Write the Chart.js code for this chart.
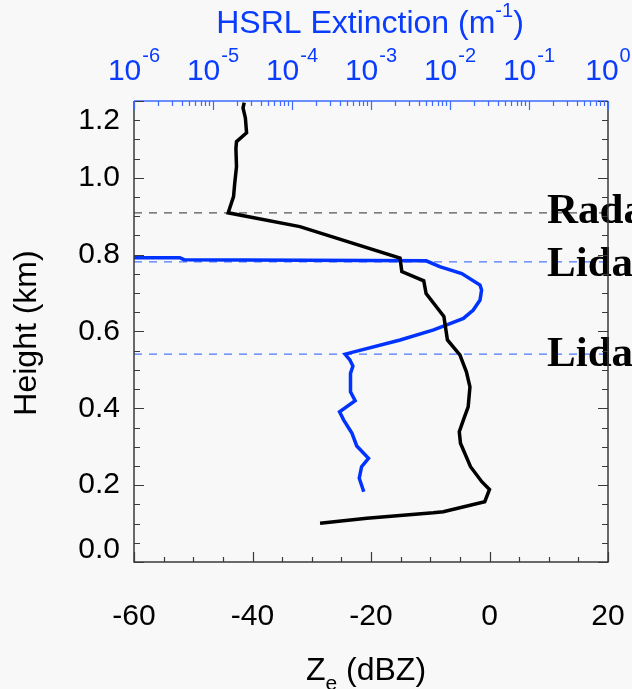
<!DOCTYPE html>
<html>
<head>
<meta charset="utf-8">
<script src="https://cdn.jsdelivr.net/npm/chart.js@4/dist/chart.umd.min.js"></script>
<style>
  html, body { margin: 0; padding: 0; background: #f8f8f8; }
  #wrap { width: 632px; height: 689px; position: relative; }
</style>
</head>
<body>
<div id="wrap"><canvas id="c" width="632" height="689"></canvas></div>
<script>
// Tick labels
const heightTicks = [0.0, 0.2, 0.4, 0.6, 0.8, 1.0, 1.2];
const zeTicks = [-60, -40, -20, 0, 20];
const extTicks = [1e-6, 1e-5, 1e-4, 1e-3, 1e-2, 1e-1, 1];
const extExponents = ['-6', '-5', '-4', '-3', '-2', '-1', '0'];

// Radar reflectivity profile (dBZ) and its heights (km)
const zeValues  = [-41.4, -41.6, -41.2, -41.0, -42.7, -42.8, -42.7, -43.0, -43.2, -44.1,
                   -32.0, -15.1, -14.8, -11.1, -10.7, -7.7, -7.1, -5.0, -3.9, -3.3,
                   -3.6, -4.4, -5.1, -4.9, -3.2, -1.3, 0.0, -0.8, -7.8, -9.5, -20.7, -28.6];
const zeHeights = [1.196, 1.182, 1.156, 1.117, 1.094, 1.077, 1.029, 0.986, 0.951, 0.909,
                   0.873, 0.791, 0.756, 0.732, 0.699, 0.639, 0.578, 0.539, 0.495, 0.456,
                   0.404, 0.370, 0.339, 0.309, 0.248, 0.209, 0.189, 0.157, 0.131, 0.128, 0.114, 0.101];

// HSRL extinction profile (1/m) and its heights (km)
const extValues  = [1.0e-6, 3.8e-6, 4.3e-6, 5.0e-3, 7.4e-3, 1.41e-2, 2.40e-2, 2.51e-2, 2.40e-2,
                    1.97e-2, 1.48e-2, 9.1e-3, 6.2e-3, 2.34e-3, 4.7e-4, 5.4e-4, 5.9e-4, 5.5e-4,
                    5.5e-4, 6.3e-4, 4.0e-4, 4.5e-4, 5.75e-4, 6.6e-4, 9.3e-4, 7.6e-4, 7.1e-4, 8.1e-4];
const extHeights = [0.792, 0.792, 0.787, 0.784, 0.769, 0.751, 0.721, 0.708, 0.682,
                    0.656, 0.634, 0.617, 0.604, 0.578, 0.541, 0.526, 0.510, 0.491,
                    0.443, 0.420, 0.391, 0.370, 0.335, 0.302, 0.270, 0.248, 0.218, 0.183];

// Cloud boundary heights (km) and their names
const levelHeights = [0.909, 0.781, 0.541];
const levelNames = ['Radar', 'Lidar', 'Lidar'];
const levelColors = ['#555555', '#4a78ff', '#4a78ff'];

const BLUE = '#0a3cff';
const SANS = '"Liberation Sans", Arial, sans-serif';

const datasets = [
  {
    label: 'Ze',
    data: zeValues.map((v, i) => ({ x: v, y: zeHeights[i] })),
    xAxisID: 'x', yAxisID: 'y',
    borderColor: '#000000', borderWidth: 3.5, showLine: true, pointRadius: 0, tension: 0
  },
  {
    label: 'Extinction',
    data: extValues.map((v, i) => ({ x: v, y: extHeights[i] })),
    xAxisID: 'xTop', yAxisID: 'y',
    borderColor: '#0033ff', borderWidth: 3.5, showLine: true, pointRadius: 0, tension: 0
  }
];
levelHeights.forEach((h, i) => {
  datasets.push({
    label: levelNames[i],
    data: [{ x: -60, y: h }, { x: 20, y: h }],
    xAxisID: 'x', yAxisID: 'y',
    borderColor: levelColors[i], borderWidth: 1.3, borderDash: [8, 7],
    showLine: true, pointRadius: 0
  });
});

// Axes frame, inward ticks, labels and annotations
const decor = {
  id: 'decor',
  afterDraw(chart) {
    const { ctx, chartArea: { left, right, top, bottom }, scales } = chart;
    const xs = scales.x, xt = scales.xTop, ys = scales.y;
    ctx.save();

    // height labels, end labels kept inside the frame
    ctx.fillStyle = '#000';
    ctx.font = '30px ' + SANS;
    ctx.textAlign = 'right';
    ctx.textBaseline = 'middle';
    heightTicks.forEach(v => {
      let py = ys.getPixelForValue(v);
      py = Math.min(Math.max(py, top + 20), bottom - 12);
      ctx.fillText(v.toFixed(1), left - 14, py);
    });

    // reflectivity labels
    ctx.textAlign = 'center';
    ctx.textBaseline = 'alphabetic';
    zeTicks.forEach(v => {
      ctx.fillText(String(v), xs.getPixelForValue(v), 625);
    });

    // extinction labels 10^n
    ctx.fillStyle = BLUE;
    ctx.textAlign = 'left';
    extTicks.forEach((v, i) => {
      const px = xt.getPixelForValue(v);
      ctx.font = '30px ' + SANS;
      const wBase = ctx.measureText('10').width;
      ctx.font = '20px ' + SANS;
      const wExp = ctx.measureText(extExponents[i]).width;
      const x0 = px - (wBase + wExp + 1) / 2;
      ctx.font = '30px ' + SANS;
      ctx.fillText('10', x0, 80);
      ctx.font = '20px ' + SANS;
      ctx.fillText(extExponents[i], x0 + wBase + 1, 62);
    });

    // top title
    {
      const parts = [['HSRL Extinction (m', 32, 33], ['-1', 20, 17], [')', 32, 33]];
      let total = 0;
      parts.forEach(p => { ctx.font = p[1] + 'px ' + SANS; total += ctx.measureText(p[0]).width; });
      let x = 370 - total / 2;
      parts.forEach(p => {
        ctx.font = p[1] + 'px ' + SANS;
        ctx.fillText(p[0], x, p[2]);
        x += ctx.measureText(p[0]).width;
      });
    }

    // bottom title
    ctx.fillStyle = '#000';
    {
      const parts = [['Z', 32, 680], ['e', 21, 690], [' (dBZ)', 32, 680]];
      let total = 0;
      parts.forEach(p => { ctx.font = p[1] + 'px ' + SANS; total += ctx.measureText(p[0]).width; });
      let x = 366 - total / 2;
      parts.forEach(p => {
        ctx.font = p[1] + 'px ' + SANS;
        ctx.fillText(p[0], x, p[2]);
        x += ctx.measureText(p[0]).width;
      });
    }

    // left title
    ctx.save();
    ctx.translate(36, 333);
    ctx.rotate(-Math.PI / 2);
    ctx.font = '32px ' + SANS;
    ctx.textAlign = 'center';
    ctx.fillText('Height (km)', 0, 0);
    ctx.restore();

    // boundary names
    ctx.font = 'bold 43px "Liberation Serif", "Times New Roman", serif';
    ctx.textAlign = 'left';
    const nameShift = [10, 14, 12];
    levelHeights.forEach((h, i) => {
      ctx.fillText(levelNames[i], 547, ys.getPixelForValue(h) + nameShift[i]);
    });

    // frame
    ctx.lineWidth = 1.5;
    ctx.strokeStyle = '#3a3a3a';
    ctx.beginPath();
    ctx.moveTo(left, top); ctx.lineTo(left, bottom); ctx.lineTo(right, bottom); ctx.lineTo(right, top);
    ctx.stroke();
    ctx.strokeStyle = '#3d6bff';
    ctx.beginPath();
    ctx.moveTo(left, top); ctx.lineTo(right, top);
    ctx.stroke();

    // bottom ticks
    ctx.lineWidth = 1.2;
    ctx.strokeStyle = '#3a3a3a';
    ctx.beginPath();
    for (let v = -60; v <= 20; v += 5) {
      const px = Math.round(xs.getPixelForValue(v)) + 0.5;
      const len = (v % 20 === 0) ? 10 : 5;
      ctx.moveTo(px, bottom); ctx.lineTo(px, bottom - len);
    }
    // left/right ticks
    for (let k = 0; k <= 24; k++) {
      const py = Math.round(ys.getPixelForValue(k * 0.05)) + 0.5;
      const len = (k % 4 === 0) ? 10 : 6;
      ctx.moveTo(left, py); ctx.lineTo(left + len, py);
      ctx.moveTo(right, py); ctx.lineTo(right - len, py);
    }
    ctx.stroke();

    // top log ticks
    ctx.strokeStyle = '#3d6bff';
    ctx.beginPath();
    for (let d = -6; d <= 0; d++) {
      for (let m = 1; m <= 9; m++) {
        const v = m * Math.pow(10, d);
        if (v > 1.0000001) break;
        const px = Math.round(xt.getPixelForValue(v)) + 0.5;
        const len = (m === 1) ? 9 : 5;
        ctx.moveTo(px, top); ctx.lineTo(px, top + len);
      }
    }
    ctx.stroke();

    ctx.restore();
  }
};

const bg = {
  id: 'bg',
  beforeDraw(chart) {
    const { ctx, width, height } = chart;
    ctx.save();
    ctx.fillStyle = '#f8f8f8';
    ctx.fillRect(0, 0, width, height);
    ctx.restore();
  }
};

new Chart(document.getElementById('c'), {
  type: 'scatter',
  data: { datasets },
  options: {
    responsive: false,
    animation: false,
    devicePixelRatio: 1,
    layout: { padding: { left: 0, right: 24, top: 0, bottom: 0 } },
    plugins: { legend: { display: false }, tooltip: { enabled: false } },
    scales: {
      x: {
        type: 'linear', position: 'bottom', min: -60, max: 20,
        grid: { display: false }, border: { display: false },
        ticks: { display: false },
        afterFit: s => { s.height = 127; }
      },
      xTop: {
        type: 'logarithmic', position: 'top', min: 1e-6, max: 1,
        grid: { display: false }, border: { display: false },
        ticks: { display: false },
        afterFit: s => { s.height = 101; }
      },
      y: {
        type: 'linear', position: 'left', min: 0, max: 1.2,
        grid: { display: false }, border: { display: false },
        ticks: { display: false },
        afterFit: s => { s.width = 134; }
      }
    }
  },
  plugins: [bg, decor]
});
</script>
</body>
</html>
